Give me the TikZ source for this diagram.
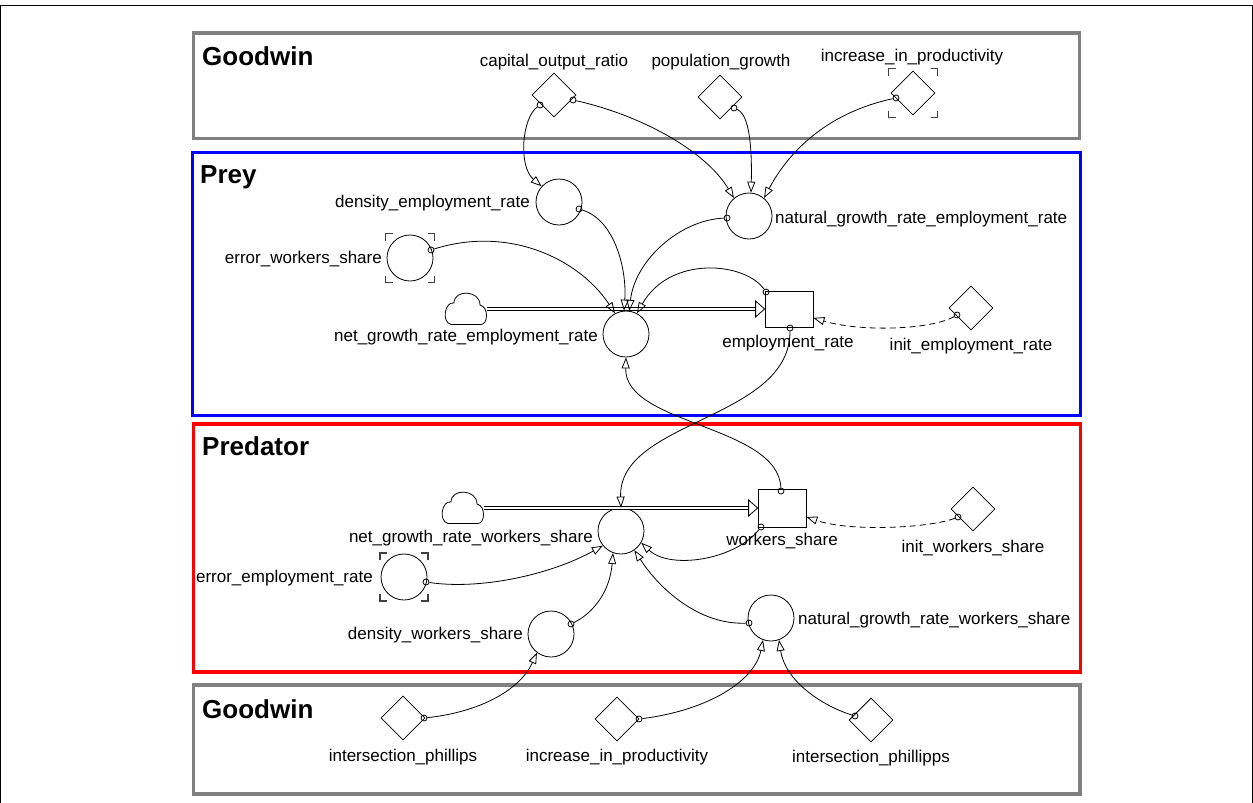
\documentclass[tikz,border=0pt]{standalone}
\usepackage{fontspec}
\setmainfont{Liberation Sans}
\usetikzlibrary{shapes.geometric,arrows.meta}
\newcommand\ghostmarks[2]{%
 \draw[ghost] ([shift={(-#2,-#2+7)}]#1.center) -- ++(0,-7) -- ++(7,0);
 \draw[ghost] ([shift={(#2-7,-#2)}]#1.center) -- ++(7,0) -- ++(0,7);
 \draw[ghost] ([shift={(#2,#2-7)}]#1.center) -- ++(0,7) -- ++(-7,0);
 \draw[ghost] ([shift={(-#2+7,#2)}]#1.center) -- ++(-7,0) -- ++(0,-7);
}
\tikzset{cloudicon/.pic={
 \draw[line width=0.8pt, fill=white] (-15,15.5) -- (15,15.5)
   .. controls (22,15.5) and (23,-2) .. (14,-4)
   .. controls (14,-19) and (-12,-20) .. (-12,-6)
   .. controls (-21,-8) and (-25,13) .. (-15,15.5) -- cycle;
}}
\begin{document}
\begin{tikzpicture}[x=1pt,y=-1pt,
  lab/.style={inner sep=0pt, font=\fontsize{17}{20}\selectfont},
  grptitle/.style={inner sep=0pt, font=\fontsize{26}{30}\selectfont\bfseries},
  aux/.style={circle, draw, line width=0.8pt, minimum size=46pt, inner sep=0pt},
  const/.style={diamond, draw, line width=0.8pt, minimum width=44pt, minimum height=44pt, inner sep=0pt},
  stock/.style={rectangle, draw, line width=0.8pt, minimum width=48pt, minimum height=36pt, inner sep=0pt},
  dot/.style={circle, draw, line width=0.8pt, minimum size=6pt, inner sep=0pt},
  conn/.style={line width=0.8pt, -{Triangle[open, length=11pt, width=8pt, line width=0.8pt]}},
  initc/.style={conn, dash pattern=on 6pt off 4pt},
  pipe/.style={double, double distance=2pt, line width=0.7pt},
  flowhead/.style={draw, fill=white, line width=0.8pt},
  cloudbox/.style={minimum width=42pt, minimum height=31pt, inner sep=0pt},
  ghost/.style={draw=black!75, line width=1.1pt},
  grpbox/.style={line width=3.5pt}
]
\useasboundingbox (0,0) rectangle (1253,803);
\fill[white] (0,0) rectangle (1253,803);
% outer frame
\draw[line width=1pt] (0.5,803) -- (0.5,5.5) -- (1252.5,5.5) -- (1252.5,803);

% group boxes
\draw[grpbox, draw=black!50] (193.5,33) rectangle (1079.5,138.5);
\draw[grpbox, draw={rgb,255:red,0;green,0;blue,255}] (192.5,152.5) rectangle (1080.5,415.5);
\draw[grpbox, draw={rgb,255:red,255;green,0;blue,0}] (193.5,424) rectangle (1080.5,672);
\draw[grpbox, draw=black!50] (193.5,685) rectangle (1080,794);

\node[grptitle, anchor=base west] (tg1) at (202,65) {Goodwin};
\node[grptitle, anchor=base west] (tprey) at (200,183) {Prey};
\node[grptitle, anchor=base west] (tpred) at (202,455) {Predator};
\node[grptitle, anchor=base west] (tg2) at (202,718) {Goodwin};

% top Goodwin
\node[const] (cor) at (554,95) {};
\node[const] (popg) at (720,97) {};
\node[const] (iip) at (913,93) {};
\ghostmarks{iip}{24.5}
\node[lab, anchor=base] (lcor) at (554,66) {capital\_output\_ratio};
\node[lab, anchor=base] (lpopg) at (721,66) {population\_growth};
\node[lab, anchor=base] (liip) at (912,61) {increase\_in\_productivity};

% Prey
\node[aux] (der) at (559,202) {};
\node[aux] (ews) at (410,258) {};
\ghostmarks{ews}{24.5}
\node[aux] (ngre) at (749,216) {};
\node[aux] (vE) at (626,334) {};
\node[cloudbox] (cE) at (466,309) {};
\pic at (cE) {cloudicon};
\node[stock] (sE) at (789,309) {};
\node[const] (ier) at (971,308) {};
\node[lab, anchor=base east] (lder) at (530,207) {density\_employment\_rate};
\node[lab, anchor=base east] (lews) at (382,263) {error\_workers\_share};
\node[lab, anchor=base west] (lngre) at (775,223) {natural\_growth\_rate\_employment\_rate};
\node[lab, anchor=base east] (lvE) at (598,341) {net\_growth\_rate\_employment\_rate};
\node[lab, anchor=base] (lsE) at (788,347) {employment\_rate};
\node[lab, anchor=base] (lier) at (971,350) {init\_employment\_rate};

% Predator
\node[aux] (vW) at (621,531) {};
\node[cloudbox] (cW) at (463,508) {};
\pic at (cW) {cloudicon};
\node[stock, minimum height=38pt] (sW) at (782,508) {};
\node[const] (iws) at (973,509) {};
\node[aux] (eer) at (404,577) {};
\ghostmarks{eer}{24}
\node[aux] (dws) at (551,634) {};
\node[aux] (ngrw) at (771,618) {};
\node[lab, anchor=base east] (lvW) at (593,542) {net\_growth\_rate\_workers\_share};
\node[lab, anchor=base] (lsW) at (782,545) {workers\_share};
\node[lab, anchor=base] (liws) at (973,552) {init\_workers\_share};
\node[lab, anchor=base east] (leer) at (373,582) {error\_employment\_rate};
\node[lab, anchor=base east] (ldws) at (523,639) {density\_workers\_share};
\node[lab, anchor=base west] (lngrw) at (798,624) {natural\_growth\_rate\_workers\_share};

% bottom Goodwin
\node[const] (ip1) at (403,718) {};
\node[const] (iip2) at (617,719) {};
\node[const] (ip2) at (871,720) {};
\node[lab, anchor=base] (lip1) at (403,761) {intersection\_phillips};
\node[lab, anchor=base] (liip2) at (617,761) {increase\_in\_productivity};
\node[lab, anchor=base] (lip2) at (871,762) {intersection\_phillipps};

% flows
\draw[pipe] (cE.east |- sE.west) -- ([xshift=-8pt]sE.west);
\draw[flowhead] (sE.west) -- ++(-9,-8) -- ++(0,16) -- cycle;
\draw[pipe] (cW.east |- sW.west) -- ([xshift=-8pt]sW.west);
\draw[flowhead] (sW.west) -- ++(-9,-8) -- ++(0,16) -- cycle;

% source dots
\node[dot] (dcor1) at (540,105) {};
\node[dot] (dcor2) at (573,100) {};
\node[dot] (dpopg) at (734,108) {};
\node[dot] (diip) at (896,98) {};
\node[dot] (dder) at (579,209) {};
\node[dot] (dews) at (431,250) {};
\node[dot] (dngre) at (727,218) {};
\node[dot] (dsEt) at (766,292) {};
\node[dot] (dsEb) at (790,328) {};
\node[dot] (dier) at (957,315) {};
\node[dot] (dsWt) at (781,491) {};
\node[dot] (dsWb) at (761,527) {};
\node[dot] (diws) at (958,517) {};
\node[dot] (deer) at (426,582) {};
\node[dot] (ddws) at (571,624) {};
\node[dot] (dngrw) at (749,623) {};
\node[dot] (dip1) at (424,718) {};
\node[dot] (diip2) at (639,719) {};
\node[dot] (dip2) at (855,716) {};

% connectors
\draw[conn] (dcor1) .. controls (522,118) and (518,166) .. (der.138);
\draw[conn] (dcor2) .. controls (640,115) and (705,150) .. (ngre.130);
\draw[conn] (dpopg) .. controls (750,115) and (752,150) .. (ngre.85);
\draw[conn] (diip) .. controls (840,110) and (795,140) .. (ngre.50);
\draw[conn] (dder) .. controls (615,220) and (627,270) .. (vE.95);
\draw[conn] (dews) .. controls (510,225) and (580,260) .. (vE.118);
\draw[conn] (dngre) .. controls (680,220) and (635,260) .. (vE.82);
\draw[conn] (dsEt) .. controls (745,262) and (670,255) .. (vE.62);
\draw[conn] (dsEb) .. controls (790,420) and (618,420) .. (vW.90);
\draw[conn] (dsWt) .. controls (778,425) and (624,425) .. (vE.270);
\draw[initc] (dier) .. controls (930,330) and (860,332) .. (sE.-20.6);
\draw[initc] (diws) .. controls (930,528) and (850,532) .. (sW.-20.6);
\draw[conn] (deer) .. controls (480,590) and (550,575) .. (vW.219);
\draw[conn] (ddws) .. controls (595,612) and (610,590) .. (vW.250);
\draw[conn] (dngrw) .. controls (700,625) and (660,590) .. (vW.305);
\draw[conn] (dsWb) .. controls (735,560) and (670,570) .. (vW.330);
\draw[conn] (dip1) .. controls (480,712) and (520,690) .. (dws.233);
\draw[conn] (diip2) .. controls (710,710) and (755,680) .. (ngrw.250);
\draw[conn] (dip2) .. controls (820,705) and (785,680) .. (ngrw.290);
\end{tikzpicture}
\end{document}
